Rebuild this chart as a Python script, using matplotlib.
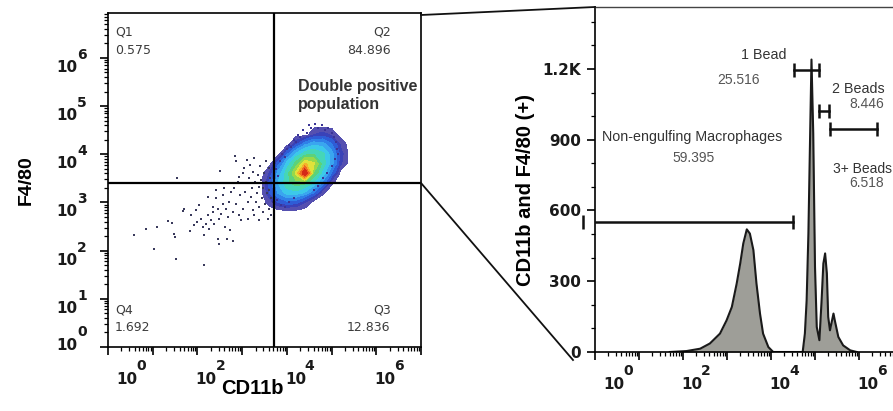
import numpy as np
import matplotlib
matplotlib.use('Agg')
import matplotlib.pyplot as plt
from matplotlib.lines import Line2D
from matplotlib.ticker import LogLocator, NullFormatter, FixedLocator, FixedFormatter

# ------------------------------------------------------------------ data
# left panel: quadrant gate and quadrant statistics
quad_gate_x = 5100.0
quad_gate_y = 2500.0
quad_names = ['Q1', 'Q2', 'Q3', 'Q4']
quad_values = ['0.575', '84.896', '12.836', '1.692']

# density of the main (double positive) cloud, log10 grid
dens_logx = [3.4, 3.6, 3.8, 4.0, 4.2, 4.4, 4.6, 4.8, 5.0, 5.2, 5.4]
dens_logy = [2.8, 3.0, 3.2, 3.4, 3.6, 3.8, 4.0, 4.2, 4.4, 4.6]
density = [
    [0, 0.0, 0.0, 0.0, 0.0, 0.0, 0.0, 0.0, 0.0, 0.0, 0],
    [0, 0.5, 1.5, 2.0, 1.8, 0.9, 0.0, 0.0, 0.0, 0.0, 0],
    [0, 1.4, 3.0, 4.0, 4.1, 3.5, 2.2, 0.4, 0.0, 0.0, 0],
    [0, 1.6, 3.6, 4.8, 5.4, 5.2, 4.2, 2.7, 0.4, 0.0, 0],
    [0, 0.9, 3.2, 4.7, 6.6, 10., 5.6, 4.0, 2.1, 0.0, 0],
    [0, 0.0, 1.9, 3.9, 5.3, 7.2, 6.6, 4.7, 3.2, 1.0, 0],
    [0, 0.0, 0.0, 2.1, 3.8, 4.7, 5.0, 4.5, 3.2, 1.2, 0],
    [0, 0.0, 0.0, 0.0, 1.4, 2.8, 3.5, 3.3, 2.3, 0.8, 0],
    [0, 0.0, 0.0, 0.0, 0.0, 0.0, 0.9, 1.2, 0.8, 0.0, 0],
    [0, 0.0, 0.0, 0.0, 0.0, 0.0, 0.0, 0.0, 0.0, 0.0, 0],
]

# sparse events (log10 CD11b, log10 F4/80)
sparse_logx = [0.583, 0.859, 1.091, 1.031, 1.353, 1.442, 1.480, 1.502, 1.517, 1.704,
               1.667, 1.854, 1.839, 1.928, 1.966, 1.980, 2.040, 2.078, 2.115, 2.152,
               2.152, 2.190, 2.227, 2.227, 2.265, 2.302, 2.339, 2.354, 2.377, 2.414,
               2.414, 2.451, 2.451, 2.489, 2.504, 2.489, 2.526, 2.563, 2.578, 2.601,
               2.623, 2.638, 2.653, 2.676, 2.713, 2.728, 2.751, 2.788, 2.788, 2.825,
               2.848, 2.862, 2.862, 2.900, 2.922, 2.937, 2.952, 2.975, 3.012, 3.027,
               3.049, 3.072, 3.087, 3.102, 3.124, 3.124, 3.161, 3.176, 3.199, 3.221,
               3.236, 3.251, 3.274, 3.274, 3.296, 3.311, 3.326, 3.348, 3.370, 3.386,
               3.386, 3.401, 3.423, 3.446, 3.460, 3.475, 3.498, 3.520, 3.535, 3.535,
               3.550, 3.572, 3.594, 3.610, 3.610, 3.625, 3.647, 3.647, 1.532]
sparse_logy = [2.327, 2.438, 2.488, 2.034, 2.606, 2.579, 2.348, 2.278, 1.824, 2.872,
               2.816, 2.732, 2.397, 2.523, 2.837, 2.593, 2.942, 2.662, 2.488, 1.698,
               2.327, 2.558, 3.117, 2.732, 2.453, 2.628, 2.907, 2.802, 2.558, 3.257,
               3.082, 2.872, 2.243, 2.138, 3.655, 2.662, 2.767, 3.152, 2.977, 3.291,
               2.488, 2.872, 2.243, 2.698, 3.012, 2.418, 3.222, 2.208, 2.802, 3.291,
               3.955, 3.851, 2.977, 3.431, 2.732, 3.536, 3.152, 2.628, 3.606, 2.872,
               3.711, 3.222, 3.396, 3.885, 3.012, 2.662, 3.501, 3.781, 3.117, 3.291,
               2.837, 3.641, 2.732, 3.920, 3.431, 3.012, 3.187, 3.571, 3.327, 2.907,
               2.628, 3.746, 3.466, 3.082, 2.802, 3.291, 3.606, 2.977, 3.851, 3.431,
               3.187, 2.662, 2.872, 3.711, 3.257, 3.501, 3.082, 2.732, 3.516]

# events on the rim of the main cloud
halo_logx = [3.85, 3.90, 3.95, 4.00, 4.05, 4.10, 4.15, 4.20, 4.25, 4.30,
             4.35, 4.45, 4.50, 4.55, 4.62, 4.70, 4.78, 4.85, 4.92, 5.00,
             5.05, 5.10, 5.12, 5.15, 5.08, 5.00, 4.90, 4.80, 4.70, 4.60,
             3.75, 3.80, 3.72, 3.78, 3.86, 3.95, 4.05, 4.15, 3.68, 3.70]
halo_logy = [3.85, 4.00, 3.95, 4.10, 4.20, 4.15, 4.30, 4.25, 4.40, 4.35,
             4.50, 4.45, 4.60, 4.55, 4.62, 4.55, 4.60, 4.50, 4.55, 4.45,
             4.35, 4.25, 4.10, 4.00, 3.90, 3.75, 3.60, 3.50, 3.35, 3.25,
             3.70, 3.55, 3.20, 3.05, 2.95, 2.90, 3.00, 3.10, 3.40, 3.00]

# right panel: histogram of the CD11b+F4/80+ population
hist_logx = [1.70, 2.08, 2.39, 2.61, 2.84, 2.99, 3.11, 3.22, 3.30, 3.37,
             3.45, 3.52, 3.60, 3.67, 3.75, 3.82, 3.94, 4.05, 4.72, 4.77,
             4.81, 4.85, 4.89, 4.92, 4.96, 5.00, 5.04, 5.10, 5.15, 5.19,
             5.23, 5.27, 5.30, 5.34, 5.42, 5.45, 5.53, 5.64, 5.80, 5.95]
hist_counts = [0, 4, 14, 36, 78, 134, 191, 290, 375, 460,
               520, 502, 432, 290, 163, 78, 21, 0, 0, 78,
               219, 502, 927, 1240, 927, 361, 106, 50, 219, 375,
               418, 333, 149, 92, 163, 134, 64, 28, 7, 0]

gate_labels = ['Non-engulfing Macrophages', '1 Bead', '2 Beads', '3+ Beads']
gate_values = ['59.395', '25.516', '8.446', '6.518']
gate_lo_log = [-0.28, 4.52, 5.09, 5.33]
gate_hi_log = [4.51, 5.10, 5.32, 6.40]
gate_counts = [552, 1196, 1020, 945]

yticks_right = [0, 300, 600, 900, 1200]
yticklabels_right = ['0', '300', '600', '900', '1.2K']

# ------------------------------------------------------------------ figure
W, H = 893, 411
fig = plt.figure(figsize=(W / 100, H / 100), dpi=100)
SANS = ['Liberation Sans', 'DejaVu Sans']
TICKFONT = dict(family='DejaVu Sans', fontweight='bold', color='#1a1a1a')


def pt(p):
    return p * 0.72


def fx(x):
    return x / W


def fy(y):
    return 1 - y / H


def decade_xlabels(ax, decades):
    for d in decades:
        off = 8 if d == decades[0] else -2
        ax.annotate('10', xy=(10.0 ** d, 0), xycoords=('data', 'axes fraction'),
                    xytext=(pt(off), pt(-32.5)), textcoords='offset points',
                    ha='left', va='center', fontsize=11, annotation_clip=False, **TICKFONT)
        ax.annotate(str(d), xy=(10.0 ** d, 0), xycoords=('data', 'axes fraction'),
                    xytext=(pt(off + 20), pt(-19)), textcoords='offset points',
                    ha='left', va='center', fontsize=10, annotation_clip=False, **TICKFONT)


# ---------------- left panel
ax1 = fig.add_axes([fx(108), fy(347), 313 / W, 334 / H])
ax1.set_xscale('log')
ax1.set_yscale('log')
ax1.set_xlim(1, 1e7)
ax1.set_ylim(1, 10 ** 6.93)

band_levels = [0.3, 0.9, 1.5, 2.2, 2.9, 3.6, 4.3, 5.0, 5.7, 6.4, 7.1, 7.9, 8.8, 10.5]
band_colors = ['#5550b0', '#3a42b8', '#2f5cd6', '#2f80e8', '#3aa6ef', '#3cc8ea',
               '#45d6b8', '#5cd27a', '#98d84a', '#e0e23a', '#f5b02a', '#ee6a22', '#d42a18']
GX, GY = np.meshgrid(10.0 ** np.array(dens_logx), 10.0 ** np.array(dens_logy))
ax1.contourf(GX, GY, np.array(density), levels=band_levels, colors=band_colors, zorder=1)

ax1.scatter(10.0 ** np.array(sparse_logx), 10.0 ** np.array(sparse_logy), s=4,
            marker='s', c='#3a3a5c', linewidths=0, zorder=2)
ax1.scatter(10.0 ** np.array(halo_logx), 10.0 ** np.array(halo_logy), s=4,
            marker='s', c='#3b3496', linewidths=0, zorder=2)

ax1.axvline(quad_gate_x, color='black', lw=1.6, zorder=3)
ax1.axhline(quad_gate_y, color='black', lw=1.6, zorder=3)

qc = '#3c3c3c'
qpos = {'Q1': (0.022, 'left', 0.943, 0.888), 'Q2': (0.903, 'right', 0.943, 0.888),
        'Q3': (0.903, 'right', 0.111, 0.058), 'Q4': (0.022, 'left', 0.111, 0.058)}
for name, val in zip(quad_names, quad_values):
    x, ha, y1, y2 = qpos[name]
    ax1.text(x, y1, name, transform=ax1.transAxes, ha=ha, va='center', fontsize=9, color=qc)
    ax1.text(x, y2, val, transform=ax1.transAxes, ha=ha, va='center', fontsize=9, color=qc)

ax1.text(0.606, 0.752, 'Double positive\npopulation', transform=ax1.transAxes,
         ha='left', va='center', fontsize=11.5, fontweight='bold', color='#333333',
         family=SANS, linespacing=1.25)

for sp in ax1.spines.values():
    sp.set_linewidth(1.2)
for axis in (ax1.xaxis, ax1.yaxis):
    axis.set_major_locator(LogLocator(base=10, numticks=20))
    axis.set_minor_locator(LogLocator(base=10, subs=np.arange(2, 10), numticks=20))
    axis.set_major_formatter(NullFormatter())
    axis.set_minor_formatter(NullFormatter())
ax1.tick_params(which='major', direction='out', length=5.5, width=1.2)
ax1.tick_params(which='minor', direction='out', length=3, width=0.9)

decade_xlabels(ax1, [0, 2, 4, 6])
for d in range(0, 7):
    by = 2 if d == 0 else -9.5
    ey = 14.5 if d == 0 else 3
    ax1.annotate('10', xy=(0, 10.0 ** d), xycoords=('axes fraction', 'data'),
                 xytext=(pt(-30.3), pt(by)), textcoords='offset points',
                 ha='right', va='center', fontsize=11, annotation_clip=False, **TICKFONT)
    ax1.annotate(str(d), xy=(0, 10.0 ** d), xycoords=('axes fraction', 'data'),
                 xytext=(pt(-31), pt(ey)), textcoords='offset points',
                 ha='left', va='center', fontsize=10, annotation_clip=False, **TICKFONT)

ax1.set_xlabel('CD11b', fontsize=14.5, fontweight='bold', family=SANS, va='center')
ax1.xaxis.set_label_coords(0.46, -0.1228)
ax1.set_ylabel('F4/80', fontsize=14, fontweight='bold', family=SANS, va='center')
ax1.yaxis.set_label_coords(-0.262, 0.5)

# ---------------- right panel
ax2 = fig.add_axes([fx(595), fy(352), 308 / W, 345.3 / H])
ax2.set_xscale('log')
ax2.set_xlim(1, 1e7)
ax2.set_ylim(0, 1464)

hx = 10.0 ** np.array(hist_logx)
ax2.fill_between(hx, hist_counts, 0, color='#9e9e98', lw=0, zorder=1)
ax2.plot(hx, hist_counts, color='#1a1a1a', lw=1.5, zorder=2)

for lo, hi, c in zip(gate_lo_log, gate_hi_log, gate_counts):
    ax2.plot([10.0 ** lo, 10.0 ** hi], [c, c], color='#111111', lw=1.8, zorder=3)
    ax2.plot([10.0 ** lo, 10.0 ** hi], [c, c], ls='none', marker='|', ms=10,
             mew=1.8, color='#111111', clip_on=False, zorder=3)

txt_c = '#333333'
num_c = '#555555'
# label positions (log10 x, count) for each gate
lab_pos = {'Non-engulfing Macrophages': (2.20, 913, 'center', 2.23, 821, 'center', 10.3),
           '1 Bead': (4.36, 1259, 'right', 3.26, 1153, 'center', 10.3),
           '2 Beads': (5.98, 1115, 'center', 6.18, 1051, 'center', 10.3),
           '3+ Beads': (5.40, 775, 'left', 6.18, 715, 'center', 10)}
for lab, val in zip(gate_labels, gate_values):
    lx, ly, lha, vx, vy, vha, fs = lab_pos[lab]
    ax2.text(10.0 ** lx, ly, lab, ha=lha, va='center', fontsize=fs, color=txt_c, family=SANS)
    ax2.text(10.0 ** vx, vy, val, ha=vha, va='center', fontsize=10, color=num_c, family=SANS)

ax2.spines['right'].set_visible(False)
ax2.spines['top'].set_color('#444444')
ax2.spines['top'].set_linewidth(1.0)
ax2.spines['left'].set_linewidth(1.2)
ax2.spines['bottom'].set_linewidth(1.2)
ax2.xaxis.set_major_locator(LogLocator(base=10, numticks=20))
ax2.xaxis.set_minor_locator(LogLocator(base=10, subs=np.arange(2, 10), numticks=20))
ax2.xaxis.set_major_formatter(NullFormatter())
ax2.xaxis.set_minor_formatter(NullFormatter())
ax2.yaxis.set_major_locator(FixedLocator(yticks_right))
ax2.yaxis.set_major_formatter(FixedFormatter(yticklabels_right))
ax2.yaxis.set_minor_locator(FixedLocator([100, 200, 400, 500, 700, 800, 1000, 1100, 1300, 1400]))
ax2.tick_params(which='major', direction='out', length=5.5, width=1.2, labelsize=11, pad=4.5,
                labelcolor='#1a1a1a')
ax2.tick_params(which='minor', direction='out', length=3, width=0.9)
for lab in ax2.get_yticklabels():
    lab.set_fontweight('bold')

decade_xlabels(ax2, [0, 2, 4, 6])
ax2.set_ylabel('CD11b and F4/80 (+)', fontsize=14.5, fontweight='bold', family=SANS, va='center')
ax2.yaxis.set_label_coords(-0.227, 0.47)

# ---------------- connector lines between panels
fig.add_artist(Line2D([fx(421), fx(595)], [fy(15), fy(7)], color='#111111', lw=1.3))
fig.add_artist(Line2D([fx(421), fx(573)], [fy(183), fy(360)], color='#111111', lw=1.3))

fig.savefig('out.png', dpi=100)
